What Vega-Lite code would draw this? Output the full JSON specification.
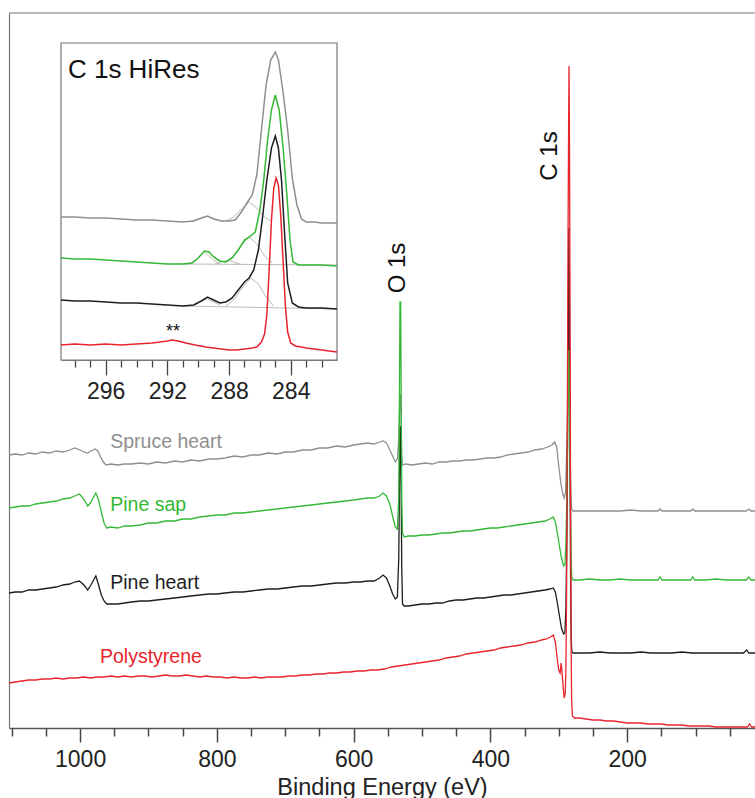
{
"$schema": "https://vega.github.io/schema/vega-lite/v6.json",
"width": 746, "height": 715,
"autosize": {"type": "none"},
"padding": {"left": 9, "top": 13, "right": 0, "bottom": 70},
"background": "white",
"config": {"view": {"stroke": null}, "font": "Liberation Sans", "text": {"font": "Liberation Sans"}, "axis": {"labelFont": "Liberation Sans", "titleFont": "Liberation Sans", "grid": false}},
"datasets": {
"main": [
{"s":"Spruce heart","eV":1104,"v":273},{"s":"Spruce heart","eV":1095,"v":274},{"s":"Spruce heart","eV":1085,"v":273},{"s":"Spruce heart","eV":1075,"v":275},{"s":"Spruce heart","eV":1065,"v":274},{"s":"Spruce heart","eV":1055,"v":276},{"s":"Spruce heart","eV":1045,"v":275},{"s":"Spruce heart","eV":1035,"v":277},{"s":"Spruce heart","eV":1025,"v":276},{"s":"Spruce heart","eV":1015,"v":278},{"s":"Spruce heart","eV":1008,"v":280},{"s":"Spruce heart","eV":1000,"v":278},{"s":"Spruce heart","eV":994,"v":276},{"s":"Spruce heart","eV":989,"v":275},{"s":"Spruce heart","eV":984,"v":277},{"s":"Spruce heart","eV":978,"v":279},{"s":"Spruce heart","eV":974,"v":277},{"s":"Spruce heart","eV":970,"v":271},{"s":"Spruce heart","eV":966,"v":266},{"s":"Spruce heart","eV":962,"v":263},{"s":"Spruce heart","eV":955,"v":264},{"s":"Spruce heart","eV":945,"v":263},{"s":"Spruce heart","eV":935,"v":264},{"s":"Spruce heart","eV":925,"v":264},{"s":"Spruce heart","eV":912,"v":265},{"s":"Spruce heart","eV":900,"v":264},{"s":"Spruce heart","eV":888,"v":266},{"s":"Spruce heart","eV":875,"v":265},{"s":"Spruce heart","eV":862,"v":267},{"s":"Spruce heart","eV":850,"v":266},{"s":"Spruce heart","eV":838,"v":268},{"s":"Spruce heart","eV":825,"v":267},{"s":"Spruce heart","eV":812,"v":269},{"s":"Spruce heart","eV":800,"v":269},{"s":"Spruce heart","eV":788,"v":270},{"s":"Spruce heart","eV":775,"v":272},{"s":"Spruce heart","eV":762,"v":271},{"s":"Spruce heart","eV":750,"v":273},{"s":"Spruce heart","eV":738,"v":273},{"s":"Spruce heart","eV":725,"v":275},{"s":"Spruce heart","eV":712,"v":274},{"s":"Spruce heart","eV":700,"v":276},{"s":"Spruce heart","eV":688,"v":276},{"s":"Spruce heart","eV":675,"v":278},{"s":"Spruce heart","eV":662,"v":278},{"s":"Spruce heart","eV":650,"v":280},{"s":"Spruce heart","eV":638,"v":280},{"s":"Spruce heart","eV":625,"v":282},{"s":"Spruce heart","eV":612,"v":281},{"s":"Spruce heart","eV":600,"v":283},{"s":"Spruce heart","eV":590,"v":284},{"s":"Spruce heart","eV":580,"v":285},{"s":"Spruce heart","eV":570,"v":284},{"s":"Spruce heart","eV":562,"v":286},{"s":"Spruce heart","eV":557,"v":287},{"s":"Spruce heart","eV":552,"v":285},{"s":"Spruce heart","eV":547,"v":278},{"s":"Spruce heart","eV":543,"v":272},{"s":"Spruce heart","eV":539,"v":266},{"s":"Spruce heart","eV":536,"v":269},{"s":"Spruce heart","eV":534,"v":290},{"s":"Spruce heart","eV":533,"v":315},{"s":"Spruce heart","eV":532.2,"v":333},{"s":"Spruce heart","eV":531.2,"v":333},{"s":"Spruce heart","eV":530.4,"v":300},{"s":"Spruce heart","eV":529.6,"v":272},{"s":"Spruce heart","eV":528.5,"v":263},{"s":"Spruce heart","eV":524,"v":264},{"s":"Spruce heart","eV":515,"v":263},{"s":"Spruce heart","eV":505,"v":264},{"s":"Spruce heart","eV":495,"v":265},{"s":"Spruce heart","eV":485,"v":264},{"s":"Spruce heart","eV":475,"v":266},{"s":"Spruce heart","eV":465,"v":266},{"s":"Spruce heart","eV":455,"v":267},{"s":"Spruce heart","eV":445,"v":267},{"s":"Spruce heart","eV":435,"v":268},{"s":"Spruce heart","eV":425,"v":268},{"s":"Spruce heart","eV":415,"v":269},{"s":"Spruce heart","eV":405,"v":270},{"s":"Spruce heart","eV":395,"v":270},{"s":"Spruce heart","eV":385,"v":271},{"s":"Spruce heart","eV":375,"v":273},{"s":"Spruce heart","eV":365,"v":274},{"s":"Spruce heart","eV":355,"v":275},{"s":"Spruce heart","eV":345,"v":276},{"s":"Spruce heart","eV":335,"v":278},{"s":"Spruce heart","eV":325,"v":279},{"s":"Spruce heart","eV":316,"v":281},{"s":"Spruce heart","eV":310,"v":283},{"s":"Spruce heart","eV":306,"v":286},{"s":"Spruce heart","eV":303,"v":281},{"s":"Spruce heart","eV":300,"v":262},{"s":"Spruce heart","eV":297,"v":245},{"s":"Spruce heart","eV":294,"v":234},{"s":"Spruce heart","eV":292,"v":230},{"s":"Spruce heart","eV":290,"v":236},{"s":"Spruce heart","eV":288.5,"v":275},{"s":"Spruce heart","eV":287,"v":320},{"s":"Spruce heart","eV":286,"v":360},{"s":"Spruce heart","eV":285.2,"v":388},{"s":"Spruce heart","eV":284.6,"v":360},{"s":"Spruce heart","eV":283.8,"v":300},{"s":"Spruce heart","eV":282.8,"v":250},{"s":"Spruce heart","eV":281.8,"v":225},{"s":"Spruce heart","eV":281,"v":219},{"s":"Spruce heart","eV":279,"v":217},{"s":"Spruce heart","eV":270,"v":217},{"s":"Spruce heart","eV":255,"v":217},{"s":"Spruce heart","eV":240,"v":217},{"s":"Spruce heart","eV":225,"v":217},{"s":"Spruce heart","eV":210,"v":217},{"s":"Spruce heart","eV":195,"v":218},{"s":"Spruce heart","eV":180,"v":217},{"s":"Spruce heart","eV":165,"v":217},{"s":"Spruce heart","eV":155,"v":217},{"s":"Spruce heart","eV":152,"v":219},{"s":"Spruce heart","eV":149,"v":217},{"s":"Spruce heart","eV":135,"v":217},{"s":"Spruce heart","eV":120,"v":217},{"s":"Spruce heart","eV":107,"v":217},{"s":"Spruce heart","eV":104,"v":219},{"s":"Spruce heart","eV":101,"v":217},{"s":"Spruce heart","eV":85,"v":217},{"s":"Spruce heart","eV":70,"v":217},{"s":"Spruce heart","eV":55,"v":217},{"s":"Spruce heart","eV":40,"v":217},{"s":"Spruce heart","eV":26,"v":217},{"s":"Spruce heart","eV":22,"v":219},{"s":"Spruce heart","eV":19,"v":217},{"s":"Spruce heart","eV":13,"v":217},
{"s":"Pine heart","eV":1104,"v":135},{"s":"Pine heart","eV":1095,"v":136},{"s":"Pine heart","eV":1085,"v":136},{"s":"Pine heart","eV":1075,"v":138},{"s":"Pine heart","eV":1065,"v":138},{"s":"Pine heart","eV":1055,"v":139},{"s":"Pine heart","eV":1045,"v":140},{"s":"Pine heart","eV":1035,"v":141},{"s":"Pine heart","eV":1025,"v":143},{"s":"Pine heart","eV":1015,"v":144},{"s":"Pine heart","eV":1008,"v":146},{"s":"Pine heart","eV":1001,"v":147},{"s":"Pine heart","eV":996,"v":144},{"s":"Pine heart","eV":992,"v":141},{"s":"Pine heart","eV":989,"v":138},{"s":"Pine heart","eV":985,"v":142},{"s":"Pine heart","eV":981,"v":147},{"s":"Pine heart","eV":977,"v":152},{"s":"Pine heart","eV":973,"v":143},{"s":"Pine heart","eV":969,"v":133},{"s":"Pine heart","eV":965,"v":127},{"s":"Pine heart","eV":961,"v":124},{"s":"Pine heart","eV":955,"v":124},{"s":"Pine heart","eV":945,"v":124},{"s":"Pine heart","eV":935,"v":125},{"s":"Pine heart","eV":925,"v":126},{"s":"Pine heart","eV":912,"v":127},{"s":"Pine heart","eV":900,"v":127},{"s":"Pine heart","eV":888,"v":128},{"s":"Pine heart","eV":875,"v":129},{"s":"Pine heart","eV":862,"v":130},{"s":"Pine heart","eV":850,"v":131},{"s":"Pine heart","eV":838,"v":132},{"s":"Pine heart","eV":825,"v":133},{"s":"Pine heart","eV":812,"v":134},{"s":"Pine heart","eV":800,"v":134},{"s":"Pine heart","eV":788,"v":135},{"s":"Pine heart","eV":775,"v":136},{"s":"Pine heart","eV":762,"v":136},{"s":"Pine heart","eV":750,"v":137},{"s":"Pine heart","eV":738,"v":138},{"s":"Pine heart","eV":725,"v":139},{"s":"Pine heart","eV":712,"v":139},{"s":"Pine heart","eV":700,"v":140},{"s":"Pine heart","eV":688,"v":141},{"s":"Pine heart","eV":675,"v":142},{"s":"Pine heart","eV":662,"v":142},{"s":"Pine heart","eV":650,"v":143},{"s":"Pine heart","eV":638,"v":144},{"s":"Pine heart","eV":625,"v":145},{"s":"Pine heart","eV":612,"v":145},{"s":"Pine heart","eV":600,"v":146},{"s":"Pine heart","eV":590,"v":146},{"s":"Pine heart","eV":580,"v":147},{"s":"Pine heart","eV":570,"v":147},{"s":"Pine heart","eV":562,"v":150},{"s":"Pine heart","eV":557,"v":153},{"s":"Pine heart","eV":552,"v":150},{"s":"Pine heart","eV":547,"v":142},{"s":"Pine heart","eV":543,"v":134},{"s":"Pine heart","eV":539,"v":129},{"s":"Pine heart","eV":536,"v":131},{"s":"Pine heart","eV":534,"v":170},{"s":"Pine heart","eV":533,"v":240},{"s":"Pine heart","eV":532.2,"v":301},{"s":"Pine heart","eV":531.2,"v":301},{"s":"Pine heart","eV":530.4,"v":230},{"s":"Pine heart","eV":529.6,"v":160},{"s":"Pine heart","eV":528.5,"v":124},{"s":"Pine heart","eV":526,"v":122},{"s":"Pine heart","eV":520,"v":122},{"s":"Pine heart","eV":510,"v":123},{"s":"Pine heart","eV":500,"v":124},{"s":"Pine heart","eV":490,"v":124},{"s":"Pine heart","eV":480,"v":125},{"s":"Pine heart","eV":470,"v":125},{"s":"Pine heart","eV":460,"v":127},{"s":"Pine heart","eV":450,"v":128},{"s":"Pine heart","eV":440,"v":128},{"s":"Pine heart","eV":430,"v":129},{"s":"Pine heart","eV":420,"v":130},{"s":"Pine heart","eV":410,"v":130},{"s":"Pine heart","eV":400,"v":131},{"s":"Pine heart","eV":390,"v":132},{"s":"Pine heart","eV":380,"v":133},{"s":"Pine heart","eV":370,"v":133},{"s":"Pine heart","eV":360,"v":134},{"s":"Pine heart","eV":350,"v":135},{"s":"Pine heart","eV":340,"v":136},{"s":"Pine heart","eV":330,"v":137},{"s":"Pine heart","eV":320,"v":138},{"s":"Pine heart","eV":313,"v":139},{"s":"Pine heart","eV":308,"v":140},{"s":"Pine heart","eV":305,"v":136},{"s":"Pine heart","eV":302,"v":125},{"s":"Pine heart","eV":299,"v":112},{"s":"Pine heart","eV":296,"v":100},{"s":"Pine heart","eV":293,"v":94},{"s":"Pine heart","eV":291,"v":95},{"s":"Pine heart","eV":289.5,"v":120},{"s":"Pine heart","eV":288,"v":200},{"s":"Pine heart","eV":287,"v":300},{"s":"Pine heart","eV":286,"v":420},{"s":"Pine heart","eV":285.2,"v":500},{"s":"Pine heart","eV":284.6,"v":440},{"s":"Pine heart","eV":283.8,"v":300},{"s":"Pine heart","eV":282.8,"v":160},{"s":"Pine heart","eV":281.8,"v":90},{"s":"Pine heart","eV":281,"v":77},{"s":"Pine heart","eV":279,"v":75},{"s":"Pine heart","eV":270,"v":75},{"s":"Pine heart","eV":255,"v":75},{"s":"Pine heart","eV":240,"v":76},{"s":"Pine heart","eV":225,"v":75},{"s":"Pine heart","eV":210,"v":75},{"s":"Pine heart","eV":195,"v":75},{"s":"Pine heart","eV":180,"v":76},{"s":"Pine heart","eV":165,"v":75},{"s":"Pine heart","eV":150,"v":75},{"s":"Pine heart","eV":135,"v":75},{"s":"Pine heart","eV":120,"v":76},{"s":"Pine heart","eV":105,"v":75},{"s":"Pine heart","eV":90,"v":75},{"s":"Pine heart","eV":75,"v":75},{"s":"Pine heart","eV":60,"v":75},{"s":"Pine heart","eV":45,"v":75},{"s":"Pine heart","eV":30,"v":75},{"s":"Pine heart","eV":25,"v":78},{"s":"Pine heart","eV":22,"v":75},{"s":"Pine heart","eV":13,"v":75},
{"s":"Pine sap","eV":1104,"v":220},{"s":"Pine sap","eV":1095,"v":221},{"s":"Pine sap","eV":1085,"v":222},{"s":"Pine sap","eV":1075,"v":222},{"s":"Pine sap","eV":1065,"v":224},{"s":"Pine sap","eV":1055,"v":225},{"s":"Pine sap","eV":1045,"v":226},{"s":"Pine sap","eV":1035,"v":227},{"s":"Pine sap","eV":1025,"v":229},{"s":"Pine sap","eV":1015,"v":230},{"s":"Pine sap","eV":1008,"v":232},{"s":"Pine sap","eV":1001,"v":234},{"s":"Pine sap","eV":996,"v":230},{"s":"Pine sap","eV":992,"v":226},{"s":"Pine sap","eV":989,"v":222},{"s":"Pine sap","eV":985,"v":225},{"s":"Pine sap","eV":981,"v":230},{"s":"Pine sap","eV":977,"v":235},{"s":"Pine sap","eV":973,"v":228},{"s":"Pine sap","eV":969,"v":216},{"s":"Pine sap","eV":965,"v":205},{"s":"Pine sap","eV":961,"v":200},{"s":"Pine sap","eV":955,"v":201},{"s":"Pine sap","eV":945,"v":200},{"s":"Pine sap","eV":935,"v":202},{"s":"Pine sap","eV":925,"v":202},{"s":"Pine sap","eV":912,"v":203},{"s":"Pine sap","eV":900,"v":205},{"s":"Pine sap","eV":888,"v":205},{"s":"Pine sap","eV":875,"v":207},{"s":"Pine sap","eV":862,"v":207},{"s":"Pine sap","eV":850,"v":209},{"s":"Pine sap","eV":838,"v":209},{"s":"Pine sap","eV":825,"v":211},{"s":"Pine sap","eV":812,"v":212},{"s":"Pine sap","eV":800,"v":213},{"s":"Pine sap","eV":788,"v":213},{"s":"Pine sap","eV":775,"v":215},{"s":"Pine sap","eV":762,"v":215},{"s":"Pine sap","eV":750,"v":216},{"s":"Pine sap","eV":738,"v":217},{"s":"Pine sap","eV":725,"v":218},{"s":"Pine sap","eV":712,"v":219},{"s":"Pine sap","eV":700,"v":220},{"s":"Pine sap","eV":688,"v":221},{"s":"Pine sap","eV":675,"v":222},{"s":"Pine sap","eV":662,"v":223},{"s":"Pine sap","eV":650,"v":224},{"s":"Pine sap","eV":638,"v":225},{"s":"Pine sap","eV":625,"v":226},{"s":"Pine sap","eV":612,"v":227},{"s":"Pine sap","eV":600,"v":228},{"s":"Pine sap","eV":590,"v":229},{"s":"Pine sap","eV":580,"v":230},{"s":"Pine sap","eV":570,"v":230},{"s":"Pine sap","eV":562,"v":232},{"s":"Pine sap","eV":557,"v":235},{"s":"Pine sap","eV":552,"v":232},{"s":"Pine sap","eV":547,"v":224},{"s":"Pine sap","eV":543,"v":212},{"s":"Pine sap","eV":539,"v":201},{"s":"Pine sap","eV":536,"v":199},{"s":"Pine sap","eV":534,"v":230},{"s":"Pine sap","eV":533,"v":330},{"s":"Pine sap","eV":532.2,"v":426},{"s":"Pine sap","eV":531.2,"v":426},{"s":"Pine sap","eV":530.4,"v":330},{"s":"Pine sap","eV":529.6,"v":230},{"s":"Pine sap","eV":528.5,"v":195},{"s":"Pine sap","eV":526,"v":191},{"s":"Pine sap","eV":520,"v":192},{"s":"Pine sap","eV":510,"v":192},{"s":"Pine sap","eV":500,"v":193},{"s":"Pine sap","eV":490,"v":193},{"s":"Pine sap","eV":480,"v":194},{"s":"Pine sap","eV":470,"v":195},{"s":"Pine sap","eV":460,"v":195},{"s":"Pine sap","eV":450,"v":196},{"s":"Pine sap","eV":440,"v":197},{"s":"Pine sap","eV":430,"v":197},{"s":"Pine sap","eV":420,"v":198},{"s":"Pine sap","eV":410,"v":199},{"s":"Pine sap","eV":400,"v":200},{"s":"Pine sap","eV":390,"v":200},{"s":"Pine sap","eV":380,"v":201},{"s":"Pine sap","eV":370,"v":202},{"s":"Pine sap","eV":360,"v":203},{"s":"Pine sap","eV":350,"v":204},{"s":"Pine sap","eV":340,"v":205},{"s":"Pine sap","eV":330,"v":206},{"s":"Pine sap","eV":320,"v":207},{"s":"Pine sap","eV":313,"v":209},{"s":"Pine sap","eV":308,"v":211},{"s":"Pine sap","eV":305,"v":206},{"s":"Pine sap","eV":302,"v":195},{"s":"Pine sap","eV":299,"v":182},{"s":"Pine sap","eV":296,"v":170},{"s":"Pine sap","eV":293,"v":162},{"s":"Pine sap","eV":291,"v":163},{"s":"Pine sap","eV":289.5,"v":185},{"s":"Pine sap","eV":288,"v":240},{"s":"Pine sap","eV":287,"v":300},{"s":"Pine sap","eV":286,"v":350},{"s":"Pine sap","eV":285.2,"v":378},{"s":"Pine sap","eV":284.6,"v":350},{"s":"Pine sap","eV":283.8,"v":290},{"s":"Pine sap","eV":282.8,"v":220},{"s":"Pine sap","eV":281.8,"v":165},{"s":"Pine sap","eV":281,"v":151},{"s":"Pine sap","eV":279,"v":148},{"s":"Pine sap","eV":270,"v":148},{"s":"Pine sap","eV":255,"v":149},{"s":"Pine sap","eV":240,"v":148},{"s":"Pine sap","eV":225,"v":148},{"s":"Pine sap","eV":210,"v":149},{"s":"Pine sap","eV":195,"v":148},{"s":"Pine sap","eV":180,"v":148},{"s":"Pine sap","eV":165,"v":148},{"s":"Pine sap","eV":155,"v":148},{"s":"Pine sap","eV":152,"v":151},{"s":"Pine sap","eV":149,"v":148},{"s":"Pine sap","eV":135,"v":148},{"s":"Pine sap","eV":120,"v":148},{"s":"Pine sap","eV":107,"v":148},{"s":"Pine sap","eV":104,"v":151},{"s":"Pine sap","eV":101,"v":148},{"s":"Pine sap","eV":85,"v":148},{"s":"Pine sap","eV":70,"v":149},{"s":"Pine sap","eV":55,"v":148},{"s":"Pine sap","eV":40,"v":148},{"s":"Pine sap","eV":26,"v":148},{"s":"Pine sap","eV":22,"v":151},{"s":"Pine sap","eV":19,"v":148},{"s":"Pine sap","eV":13,"v":148},
{"s":"Polystyrene","eV":1104,"v":45},{"s":"Polystyrene","eV":1095,"v":46},{"s":"Polystyrene","eV":1085,"v":47},{"s":"Polystyrene","eV":1075,"v":48},{"s":"Polystyrene","eV":1065,"v":48},{"s":"Polystyrene","eV":1055,"v":49},{"s":"Polystyrene","eV":1045,"v":49},{"s":"Polystyrene","eV":1035,"v":50},{"s":"Polystyrene","eV":1025,"v":49},{"s":"Polystyrene","eV":1015,"v":50},{"s":"Polystyrene","eV":1005,"v":50},{"s":"Polystyrene","eV":995,"v":51},{"s":"Polystyrene","eV":985,"v":50},{"s":"Polystyrene","eV":975,"v":51},{"s":"Polystyrene","eV":965,"v":51},{"s":"Polystyrene","eV":955,"v":52},{"s":"Polystyrene","eV":945,"v":51},{"s":"Polystyrene","eV":935,"v":52},{"s":"Polystyrene","eV":925,"v":51},{"s":"Polystyrene","eV":915,"v":52},{"s":"Polystyrene","eV":905,"v":52},{"s":"Polystyrene","eV":895,"v":51},{"s":"Polystyrene","eV":885,"v":52},{"s":"Polystyrene","eV":875,"v":53},{"s":"Polystyrene","eV":865,"v":52},{"s":"Polystyrene","eV":855,"v":52},{"s":"Polystyrene","eV":845,"v":53},{"s":"Polystyrene","eV":835,"v":52},{"s":"Polystyrene","eV":825,"v":51},{"s":"Polystyrene","eV":815,"v":52},{"s":"Polystyrene","eV":805,"v":51},{"s":"Polystyrene","eV":795,"v":51},{"s":"Polystyrene","eV":785,"v":50},{"s":"Polystyrene","eV":775,"v":51},{"s":"Polystyrene","eV":765,"v":50},{"s":"Polystyrene","eV":755,"v":50},{"s":"Polystyrene","eV":745,"v":51},{"s":"Polystyrene","eV":735,"v":50},{"s":"Polystyrene","eV":725,"v":51},{"s":"Polystyrene","eV":715,"v":51},{"s":"Polystyrene","eV":705,"v":51},{"s":"Polystyrene","eV":695,"v":52},{"s":"Polystyrene","eV":685,"v":52},{"s":"Polystyrene","eV":675,"v":53},{"s":"Polystyrene","eV":665,"v":53},{"s":"Polystyrene","eV":655,"v":54},{"s":"Polystyrene","eV":645,"v":54},{"s":"Polystyrene","eV":635,"v":55},{"s":"Polystyrene","eV":625,"v":55},{"s":"Polystyrene","eV":615,"v":56},{"s":"Polystyrene","eV":605,"v":56},{"s":"Polystyrene","eV":595,"v":57},{"s":"Polystyrene","eV":585,"v":57},{"s":"Polystyrene","eV":575,"v":58},{"s":"Polystyrene","eV":565,"v":58},{"s":"Polystyrene","eV":555,"v":59},{"s":"Polystyrene","eV":545,"v":61},{"s":"Polystyrene","eV":535,"v":62},{"s":"Polystyrene","eV":525,"v":63},{"s":"Polystyrene","eV":515,"v":64},{"s":"Polystyrene","eV":505,"v":65},{"s":"Polystyrene","eV":495,"v":66},{"s":"Polystyrene","eV":485,"v":67},{"s":"Polystyrene","eV":475,"v":68},{"s":"Polystyrene","eV":465,"v":70},{"s":"Polystyrene","eV":455,"v":71},{"s":"Polystyrene","eV":445,"v":72},{"s":"Polystyrene","eV":435,"v":74},{"s":"Polystyrene","eV":425,"v":75},{"s":"Polystyrene","eV":415,"v":76},{"s":"Polystyrene","eV":405,"v":77},{"s":"Polystyrene","eV":395,"v":78},{"s":"Polystyrene","eV":385,"v":80},{"s":"Polystyrene","eV":375,"v":81},{"s":"Polystyrene","eV":365,"v":82},{"s":"Polystyrene","eV":355,"v":83},{"s":"Polystyrene","eV":345,"v":85},{"s":"Polystyrene","eV":335,"v":86},{"s":"Polystyrene","eV":325,"v":88},{"s":"Polystyrene","eV":318,"v":89},{"s":"Polystyrene","eV":312,"v":91},{"s":"Polystyrene","eV":308,"v":93},{"s":"Polystyrene","eV":305,"v":86},{"s":"Polystyrene","eV":302,"v":68},{"s":"Polystyrene","eV":300,"v":58},{"s":"Polystyrene","eV":298,"v":55},{"s":"Polystyrene","eV":296.5,"v":65},{"s":"Polystyrene","eV":295,"v":55},{"s":"Polystyrene","eV":293.5,"v":40},{"s":"Polystyrene","eV":292,"v":30},{"s":"Polystyrene","eV":290.5,"v":35},{"s":"Polystyrene","eV":289.5,"v":60},{"s":"Polystyrene","eV":288.5,"v":140},{"s":"Polystyrene","eV":287.5,"v":300},{"s":"Polystyrene","eV":286.5,"v":480},{"s":"Polystyrene","eV":285.6,"v":600},{"s":"Polystyrene","eV":285,"v":662},{"s":"Polystyrene","eV":284.4,"v":600},{"s":"Polystyrene","eV":283.6,"v":450},{"s":"Polystyrene","eV":282.8,"v":250},{"s":"Polystyrene","eV":282,"v":90},{"s":"Polystyrene","eV":281.2,"v":30},{"s":"Polystyrene","eV":280,"v":12},{"s":"Polystyrene","eV":277,"v":10},{"s":"Polystyrene","eV":270,"v":10},{"s":"Polystyrene","eV":260,"v":9},{"s":"Polystyrene","eV":250,"v":8},{"s":"Polystyrene","eV":240,"v":8},{"s":"Polystyrene","eV":230,"v":7},{"s":"Polystyrene","eV":220,"v":7},{"s":"Polystyrene","eV":210,"v":6},{"s":"Polystyrene","eV":200,"v":5},{"s":"Polystyrene","eV":190,"v":5},{"s":"Polystyrene","eV":180,"v":5},{"s":"Polystyrene","eV":170,"v":4},{"s":"Polystyrene","eV":160,"v":4},{"s":"Polystyrene","eV":150,"v":4},{"s":"Polystyrene","eV":140,"v":3},{"s":"Polystyrene","eV":130,"v":3},{"s":"Polystyrene","eV":120,"v":3},{"s":"Polystyrene","eV":110,"v":2},{"s":"Polystyrene","eV":100,"v":2},{"s":"Polystyrene","eV":90,"v":2},{"s":"Polystyrene","eV":80,"v":2},{"s":"Polystyrene","eV":70,"v":1},{"s":"Polystyrene","eV":60,"v":1},{"s":"Polystyrene","eV":50,"v":1},{"s":"Polystyrene","eV":40,"v":1},{"s":"Polystyrene","eV":30,"v":1},{"s":"Polystyrene","eV":24,"v":1},{"s":"Polystyrene","eV":21,"v":4},{"s":"Polystyrene","eV":18,"v":1},{"s":"Polystyrene","eV":13,"v":1}
],
"labels": [
{"t":"Spruce heart","s":"Spruce heart","eV":956,"v":286},
{"t":"Pine sap","s":"Pine sap","eV":956,"v":223},
{"t":"Pine heart","s":"Pine heart","eV":956,"v":145},
{"t":"Polystyrene","s":"Polystyrene","eV":971,"v":71}
],
"peaks": [
{"t":"O 1s","eV":535,"v":460},
{"t":"C 1s","eV":313,"v":572}
],
"inset": [
{"s":"Spruce heart","eV":298.9,"v":143},{"s":"Spruce heart","eV":298,"v":143},{"s":"Spruce heart","eV":297,"v":142},{"s":"Spruce heart","eV":296,"v":142},{"s":"Spruce heart","eV":295,"v":141},{"s":"Spruce heart","eV":294,"v":140},{"s":"Spruce heart","eV":293,"v":140},{"s":"Spruce heart","eV":292,"v":139},{"s":"Spruce heart","eV":291,"v":138},{"s":"Spruce heart","eV":290.3,"v":139},{"s":"Spruce heart","eV":289.8,"v":142},{"s":"Spruce heart","eV":289.4,"v":144},{"s":"Spruce heart","eV":289,"v":141},{"s":"Spruce heart","eV":288.5,"v":139},{"s":"Spruce heart","eV":288,"v":139},{"s":"Spruce heart","eV":287.6,"v":140},{"s":"Spruce heart","eV":287.2,"v":148},{"s":"Spruce heart","eV":286.8,"v":158},{"s":"Spruce heart","eV":286.5,"v":165},{"s":"Spruce heart","eV":286.2,"v":185},{"s":"Spruce heart","eV":285.9,"v":230},{"s":"Spruce heart","eV":285.6,"v":275},{"s":"Spruce heart","eV":285.3,"v":300},{"s":"Spruce heart","eV":285,"v":308},{"s":"Spruce heart","eV":284.8,"v":300},{"s":"Spruce heart","eV":284.5,"v":268},{"s":"Spruce heart","eV":284.2,"v":230},{"s":"Spruce heart","eV":283.9,"v":182},{"s":"Spruce heart","eV":283.6,"v":155},{"s":"Spruce heart","eV":283.3,"v":141},{"s":"Spruce heart","eV":283,"v":138},{"s":"Spruce heart","eV":282.5,"v":138},{"s":"Spruce heart","eV":282,"v":137},{"s":"Spruce heart","eV":281.5,"v":137},{"s":"Spruce heart","eV":281,"v":137},
{"s":"Pine heart","eV":298.9,"v":60},{"s":"Pine heart","eV":298,"v":59},{"s":"Pine heart","eV":297,"v":59},{"s":"Pine heart","eV":296,"v":58},{"s":"Pine heart","eV":295,"v":57},{"s":"Pine heart","eV":294,"v":57},{"s":"Pine heart","eV":293,"v":56},{"s":"Pine heart","eV":292,"v":55},{"s":"Pine heart","eV":291,"v":54},{"s":"Pine heart","eV":290.3,"v":55},{"s":"Pine heart","eV":289.8,"v":59},{"s":"Pine heart","eV":289.4,"v":63},{"s":"Pine heart","eV":289,"v":60},{"s":"Pine heart","eV":288.6,"v":57},{"s":"Pine heart","eV":288.2,"v":58},{"s":"Pine heart","eV":287.8,"v":62},{"s":"Pine heart","eV":287.4,"v":70},{"s":"Pine heart","eV":287,"v":78},{"s":"Pine heart","eV":286.7,"v":82},{"s":"Pine heart","eV":286.4,"v":90},{"s":"Pine heart","eV":286.1,"v":110},{"s":"Pine heart","eV":285.85,"v":140},{"s":"Pine heart","eV":285.55,"v":180},{"s":"Pine heart","eV":285.25,"v":212},{"s":"Pine heart","eV":285,"v":224},{"s":"Pine heart","eV":284.8,"v":212},{"s":"Pine heart","eV":284.6,"v":180},{"s":"Pine heart","eV":284.4,"v":127},{"s":"Pine heart","eV":284.2,"v":77},{"s":"Pine heart","eV":283.9,"v":57},{"s":"Pine heart","eV":283.5,"v":53},{"s":"Pine heart","eV":283,"v":52},{"s":"Pine heart","eV":282,"v":52},{"s":"Pine heart","eV":281,"v":51},
{"s":"Pine sap","eV":298.9,"v":102},{"s":"Pine sap","eV":298,"v":101},{"s":"Pine sap","eV":297,"v":101},{"s":"Pine sap","eV":296,"v":100},{"s":"Pine sap","eV":295,"v":99},{"s":"Pine sap","eV":294,"v":98},{"s":"Pine sap","eV":293,"v":97},{"s":"Pine sap","eV":292,"v":96},{"s":"Pine sap","eV":291,"v":96},{"s":"Pine sap","eV":290.4,"v":97},{"s":"Pine sap","eV":290,"v":102},{"s":"Pine sap","eV":289.6,"v":109},{"s":"Pine sap","eV":289.3,"v":108},{"s":"Pine sap","eV":289,"v":103},{"s":"Pine sap","eV":288.6,"v":99},{"s":"Pine sap","eV":288.2,"v":98},{"s":"Pine sap","eV":287.8,"v":102},{"s":"Pine sap","eV":287.4,"v":110},{"s":"Pine sap","eV":287,"v":120},{"s":"Pine sap","eV":286.6,"v":124},{"s":"Pine sap","eV":286.3,"v":128},{"s":"Pine sap","eV":286,"v":150},{"s":"Pine sap","eV":285.75,"v":180},{"s":"Pine sap","eV":285.5,"v":220},{"s":"Pine sap","eV":285.25,"v":250},{"s":"Pine sap","eV":285,"v":265},{"s":"Pine sap","eV":284.75,"v":250},{"s":"Pine sap","eV":284.5,"v":213},{"s":"Pine sap","eV":284.25,"v":165},{"s":"Pine sap","eV":284.05,"v":120},{"s":"Pine sap","eV":283.85,"v":98},{"s":"Pine sap","eV":283.5,"v":95},{"s":"Pine sap","eV":283,"v":95},{"s":"Pine sap","eV":282,"v":95},{"s":"Pine sap","eV":281,"v":94},
{"s":"Polystyrene","eV":298.9,"v":15},{"s":"Polystyrene","eV":298,"v":16},{"s":"Polystyrene","eV":297,"v":15},{"s":"Polystyrene","eV":296,"v":16},{"s":"Polystyrene","eV":295,"v":15},{"s":"Polystyrene","eV":294,"v":16},{"s":"Polystyrene","eV":293,"v":17},{"s":"Polystyrene","eV":292.5,"v":18},{"s":"Polystyrene","eV":292,"v":19},{"s":"Polystyrene","eV":291.7,"v":20},{"s":"Polystyrene","eV":291.3,"v":19},{"s":"Polystyrene","eV":290.8,"v":17},{"s":"Polystyrene","eV":290.2,"v":15},{"s":"Polystyrene","eV":289.5,"v":13},{"s":"Polystyrene","eV":289,"v":12},{"s":"Polystyrene","eV":288.5,"v":11},{"s":"Polystyrene","eV":288,"v":10},{"s":"Polystyrene","eV":287.5,"v":10},{"s":"Polystyrene","eV":287,"v":11},{"s":"Polystyrene","eV":286.5,"v":12},{"s":"Polystyrene","eV":286.2,"v":13},{"s":"Polystyrene","eV":285.9,"v":18},{"s":"Polystyrene","eV":285.7,"v":26},{"s":"Polystyrene","eV":285.55,"v":45},{"s":"Polystyrene","eV":285.4,"v":90},{"s":"Polystyrene","eV":285.25,"v":140},{"s":"Polystyrene","eV":285.1,"v":172},{"s":"Polystyrene","eV":284.95,"v":182},{"s":"Polystyrene","eV":284.8,"v":175},{"s":"Polystyrene","eV":284.65,"v":145},{"s":"Polystyrene","eV":284.5,"v":100},{"s":"Polystyrene","eV":284.35,"v":55},{"s":"Polystyrene","eV":284.2,"v":28},{"s":"Polystyrene","eV":284,"v":17},{"s":"Polystyrene","eV":283.7,"v":14},{"s":"Polystyrene","eV":283.3,"v":13},{"s":"Polystyrene","eV":283,"v":12},{"s":"Polystyrene","eV":282.5,"v":11},{"s":"Polystyrene","eV":282,"v":10},{"s":"Polystyrene","eV":281.5,"v":9},{"s":"Polystyrene","eV":281,"v":8}
],
"comps": [
{"k":"g1","eV":288.2,"v":139},{"k":"g1","eV":287.7,"v":143},{"k":"g1","eV":287.2,"v":151},{"k":"g1","eV":286.7,"v":158},{"k":"g1","eV":286.2,"v":152},{"k":"g1","eV":285.8,"v":144},{"k":"g1","eV":285.3,"v":139},
{"k":"g2","eV":290.4,"v":139},{"k":"g2","eV":289.9,"v":141},{"k":"g2","eV":289.4,"v":144},{"k":"g2","eV":288.9,"v":141},{"k":"g2","eV":288.4,"v":139},
{"k":"n1","eV":288.3,"v":97},{"k":"n1","eV":287.8,"v":103},{"k":"n1","eV":287.3,"v":113},{"k":"n1","eV":286.7,"v":123},{"k":"n1","eV":286.2,"v":116},{"k":"n1","eV":285.7,"v":104},{"k":"n1","eV":285.2,"v":97},
{"k":"n2","eV":290.6,"v":96},{"k":"n2","eV":290.1,"v":101},{"k":"n2","eV":289.6,"v":108},{"k":"n2","eV":289.1,"v":101},{"k":"n2","eV":288.6,"v":96},
{"k":"n3","eV":288.9,"v":96},{"k":"n3","eV":288.5,"v":98},{"k":"n3","eV":288.1,"v":100},{"k":"n3","eV":287.7,"v":98},{"k":"n3","eV":287.3,"v":96},
{"k":"n0","eV":291,"v":96},{"k":"n0","eV":281,"v":95},
{"k":"b1","eV":288.2,"v":54},{"k":"b1","eV":287.7,"v":60},{"k":"b1","eV":287.2,"v":71},{"k":"b1","eV":286.6,"v":82},{"k":"b1","eV":286.1,"v":76},{"k":"b1","eV":285.6,"v":63},{"k":"b1","eV":285.1,"v":54},
{"k":"b2","eV":290.2,"v":55},{"k":"b2","eV":289.8,"v":59},{"k":"b2","eV":289.4,"v":61},{"k":"b2","eV":289,"v":58},{"k":"b2","eV":288.6,"v":55},
{"k":"b0","eV":291,"v":54},{"k":"b0","eV":281,"v":51}
]
},
"layer": [
{
"encoding": {
"x": {"field": "eV", "type": "quantitative", "scale": {"domain": [13, 1104], "reverse": true, "nice": false, "zero": false},
 "axis": {"orient": "bottom", "values": [1000, 800, 600, 400, 200], "format": "d", "tickSize": 14, "tickWidth": 1.5, "tickColor": "#444", "domainColor": "#555", "domainWidth": 1.5, "labelFontSize": 23, "labelColor": "#222", "labelPadding": 6, "labelFlush": false, "labelOverlap": false, "title": "Binding Energy (eV)", "titleFontSize": 23.5, "titleFontWeight": "normal", "titleColor": "#222", "titlePadding": 4}},
"y": {"field": "v", "type": "quantitative", "scale": {"domain": [0, 715], "nice": false, "zero": false},
 "axis": {"orient": "left", "domainColor": "#777", "domainWidth": 1.2, "ticks": false, "labels": false, "title": null}}
},
"layer": [
{"data": {"name": "main"}, "mark": {"type": "line", "strokeWidth": 1.3, "clip": true},
 "encoding": {"color": {"field": "s", "type": "nominal", "scale": {"domain": ["Spruce heart", "Pine heart", "Pine sap", "Polystyrene"], "range": ["#8f8f8f", "#1e1e1e", "#35b835", "#e8242c"]}, "legend": null}}},
{"data": {"name": "labels"}, "mark": {"type": "text", "align": "left", "baseline": "middle", "fontSize": 19.5},
 "encoding": {"text": {"field": "t"}, "color": {"field": "s", "type": "nominal", "legend": null}}},
{"data": {"name": "peaks"}, "mark": {"type": "text", "angle": 270, "align": "center", "baseline": "middle", "fontSize": 24, "color": "#111"},
 "encoding": {"text": {"field": "t"}}}
]
},
{
"data": {"values": [{}]},
"mark": {"type": "rule", "color": "#777", "strokeWidth": 1.2},
"encoding": {
"x": {"datum": 1104, "type": "quantitative", "scale": {"domain": [13, 1104], "reverse": true, "nice": false, "zero": false},
 "axis": {"orient": "bottom", "values": [1100, 1050, 950, 900, 850, 750, 700, 650, 550, 500, 450, 350, 300, 250, 150, 100, 50], "tickSize": 8, "tickWidth": 1.5, "tickColor": "#444", "labels": false, "domain": false, "title": null}},
"x2": {"datum": 13},
"y": {"datum": 715, "type": "quantitative", "scale": {"domain": [0, 715], "nice": false, "zero": false}, "axis": null}
}
},
{
"data": {"values": [{}]},
"mark": {"type": "rect", "fill": "white", "stroke": "#777", "strokeWidth": 1.2},
"encoding": {
"x": {"datum": 298.9, "type": "quantitative", "scale": {"domain": [281, 298.9], "range": [328, 52], "nice": false, "zero": false},
 "axis": {"orient": "bottom", "offset": -368, "values": [298, 297, 295, 294, 293, 291, 290, 289, 287, 286, 285, 283, 282], "tickSize": 7, "tickWidth": 1.3, "tickColor": "#444", "labels": false, "domain": false, "title": null, "zindex": 1}},
"x2": {"datum": 281},
"y": {"datum": 0, "type": "quantitative", "scale": {"domain": [0, 317], "range": [347, 30], "nice": false, "zero": false}, "axis": null},
"y2": {"datum": 317}
}
},
{
"encoding": {
"x": {"field": "eV", "type": "quantitative", "scale": {"domain": [281, 298.9], "range": [328, 52], "nice": false, "zero": false},
 "axis": {"orient": "bottom", "offset": -368, "values": [296, 292, 288, 284], "format": "d", "tickSize": 15, "tickWidth": 1.3, "tickColor": "#444", "domainColor": "#777", "domainWidth": 1.2, "labelFontSize": 23, "labelColor": "#222", "labelPadding": 5, "labelFlush": false, "labelOverlap": false, "title": null, "zindex": 1}},
"y": {"field": "v", "type": "quantitative", "scale": {"domain": [0, 317], "range": [347, 30], "nice": false, "zero": false}, "axis": null}
},
"layer": [
{"data": {"name": "comps"}, "mark": {"type": "line", "color": "#a8a8a8", "strokeWidth": 0.8}, "encoding": {"detail": {"field": "k"}}},
{"data": {"name": "inset"}, "mark": {"type": "line", "strokeWidth": 1.5}, "encoding": {"color": {"field": "s", "type": "nominal", "legend": null}}},
{"data": {"values": [{"t": "C 1s HiRes", "eV": 298.45, "v": 290}]}, "mark": {"type": "text", "align": "left", "baseline": "middle", "fontSize": 26, "color": "#111"}, "encoding": {"text": {"field": "t"}}},
{"data": {"values": [{"t": "**", "eV": 291.64, "v": 28}]}, "mark": {"type": "text", "align": "center", "baseline": "middle", "fontSize": 18, "color": "#111"}, "encoding": {"text": {"field": "t"}}}
]
}
],
"resolve": {"scale": {"x": "independent", "y": "independent"}, "axis": {"x": "independent", "y": "independent"}}
}
